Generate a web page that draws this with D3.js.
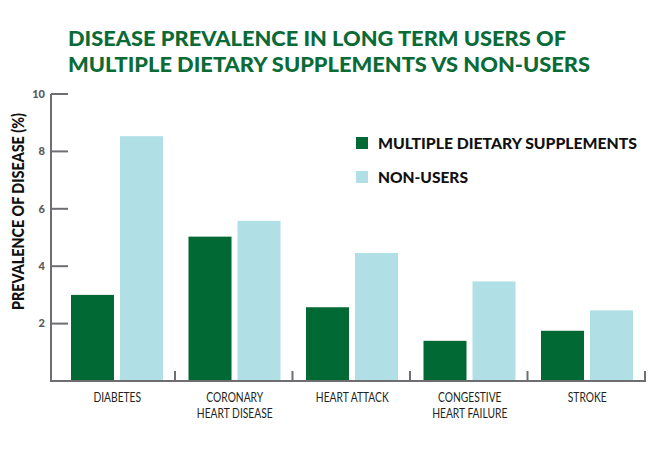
<!DOCTYPE html>
<html>
<head>
<meta charset="utf-8">
<script src="https://cdn.jsdelivr.net/npm/d3@7"></script>
<style>
  html, body { margin: 0; padding: 0; background: #fff; }
  svg { display: block; }
</style>
</head>
<body>
<svg id="chart" width="650" height="455"></svg>
<script>
const categories = [["DIABETES"], ["CORONARY", "HEART DISEASE"], ["HEART ATTACK"], ["CONGESTIVE", "HEART FAILURE"], ["STROKE"]];
const seriesNames = ["MULTIPLE DIETARY SUPPLEMENTS", "NON-USERS"];
const supplementUsers = [3.0, 5.03, 2.57, 1.4, 1.75];
const nonUsers = [8.53, 5.58, 4.46, 3.47, 2.46];
const yTicks = [2, 4, 6, 8, 10];
const titleLines = ["DISEASE PREVALENCE IN LONG TERM USERS OF", "MULTIPLE DIETARY SUPPLEMENTS VS NON-USERS"];
const yTitle = "PREVALENCE OF DISEASE (%)";

const colors = ["#006934", "#b0e0e6"];
const green = "#0a6b37";
const axisGray = "#6d6e71";

const svg = d3.select("#chart");
const catKeys = categories.map(c => c.join(" "));

const x0 = d3.scaleBand().domain(catKeys).range([57.5, 645]).paddingInner(0).paddingOuter(0);
const x1 = d3.scaleBand().domain(seriesNames).range([13.5, 105.5]).paddingInner(0.1224).paddingOuter(0);
const y = d3.scaleLinear().domain([0, 10]).range([381, 94]);

// Title
const titleWidths = [498, 522];
svg.append("g").selectAll("text").data(titleLines).join("text")
  .attr("x", 68).attr("y", (d, i) => 46 + i * 25.5)
  .attr("textLength", (d, i) => titleWidths[i]).attr("lengthAdjust", "spacingAndGlyphs")
  .attr("font-family", "Lato, sans-serif").attr("font-weight", 900).attr("font-size", 20)
  .attr("fill", green).text(d => d);

// Bars
const data = catKeys.map((c, i) => ({ cat: c, vals: [supplementUsers[i], nonUsers[i]] }));
const groups = svg.append("g").selectAll("g").data(data).join("g")
  .attr("transform", d => `translate(${x0(d.cat)},0)`);
groups.selectAll("rect").data(d => d.vals.map((v, j) => ({ s: seriesNames[j], v, j }))).join("rect")
  .attr("x", d => x1(d.s)).attr("width", x1.bandwidth())
  .attr("y", d => y(d.v)).attr("height", d => y(0) - y(d.v))
  .attr("fill", d => colors[d.j]);

// Y axis
const yAxis = svg.append("g");
yAxis.append("line").attr("x1", 51).attr("x2", 51).attr("y1", y(10)).attr("y2", y(0))
  .attr("stroke", axisGray).attr("stroke-width", 2);
yAxis.selectAll("line.tick").data(yTicks).join("line").attr("class", "tick")
  .attr("x1", 51).attr("x2", 68).attr("y1", d => y(d)).attr("y2", d => y(d))
  .attr("stroke", axisGray).attr("stroke-width", 2);
yAxis.selectAll("text").data(yTicks).join("text")
  .attr("x", 45).attr("y", d => y(d)).attr("dy", "0.35em").attr("text-anchor", "end")
  .attr("font-family", "Lato, sans-serif").attr("font-weight", 900).attr("font-size", 11)
  .attr("fill", "#58595b").text(d => d);

// X axis
const xAxis = svg.append("g");
xAxis.append("line").attr("x1", 50).attr("x2", 646).attr("y1", y(0)).attr("y2", y(0))
  .attr("stroke", axisGray).attr("stroke-width", 2);
xAxis.selectAll("line.tick").data(catKeys).join("line").attr("class", "tick")
  .attr("x1", d => x0(d) + x0.bandwidth()).attr("x2", d => x0(d) + x0.bandwidth())
  .attr("y1", y(0)).attr("y2", y(0) - 10)
  .attr("stroke", axisGray).attr("stroke-width", 2);
const labels = xAxis.selectAll("text").data(categories).join("text")
  .attr("transform", (d, i) => `translate(${x0(catKeys[i]) + x0.bandwidth() / 2 + 1},0)`)
  .attr("text-anchor", "middle")
  .attr("font-family", "Lato, sans-serif").attr("font-size", 12.5)
  .attr("fill", "#231f20");
labels.selectAll("tspan").data(d => d).join("tspan")
  .attr("x", 0).attr("y", (d, i) => 402 + i * 16)
  .text(d => d)
  .each(function () {
    const w = this.getComputedTextLength();
    d3.select(this).attr("textLength", w * 0.82).attr("lengthAdjust", "spacingAndGlyphs");
  });

// Y title
svg.append("text")
  .attr("transform", `translate(24,${(113 + 310) / 2}) rotate(-90)`)
  .attr("text-anchor", "middle")
  .attr("textLength", 197).attr("lengthAdjust", "spacingAndGlyphs")
  .attr("font-family", "Lato, sans-serif").attr("font-weight", 900).attr("font-size", 16.5)
  .attr("fill", "#111").text(yTitle);

// Legend
const legendWidths = [259, 90];
const legend = svg.append("g").selectAll("g").data(seriesNames).join("g")
  .attr("transform", (d, i) => `translate(356,${137 + i * 34})`);
legend.append("rect").attr("width", 12).attr("height", 12).attr("fill", (d, i) => colors[i]);
legend.append("text").attr("x", 22).attr("y", 12)
  .attr("textLength", (d, i) => legendWidths[i]).attr("lengthAdjust", "spacingAndGlyphs")
  .attr("font-family", "Lato, sans-serif").attr("font-weight", 900).attr("font-size", 15)
  .attr("fill", "#111").text(d => d);
</script>
</body>
</html>
